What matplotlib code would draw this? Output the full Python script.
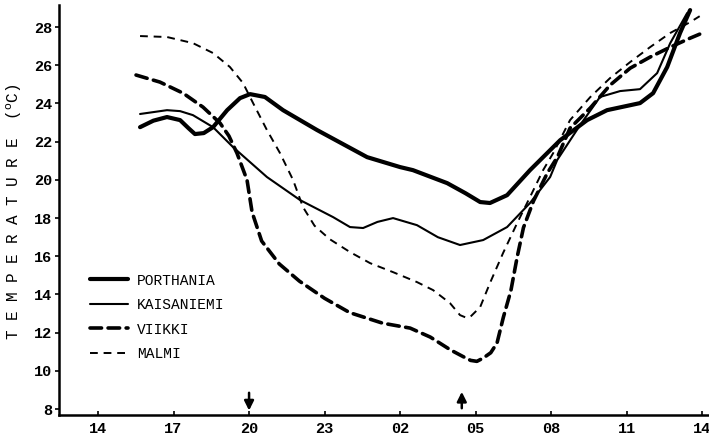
import matplotlib
matplotlib.use('Agg')
import matplotlib.pyplot as plt

# hours from 14:00 on day 1 (values above 24 are the next morning)
porthania_x = [15.67, 16.2, 16.74, 17.26, 17.6, 17.85, 18.2, 18.57, 19.13, 19.64, 20.04, 20.63,
               21.35, 22.7, 24.69, 26.0, 26.51, 27.87, 28.6, 29.18, 29.57, 30.25, 31.16, 32.36,
               33.43, 34.22, 35.53, 36.05, 36.61, 37.12, 37.52]
porthania_y = [22.76, 23.1, 23.29, 23.13, 22.7, 22.4, 22.45, 22.76, 23.65, 24.28, 24.49, 24.34,
               23.65, 22.61, 21.19, 20.67, 20.51, 19.83, 19.3, 18.84, 18.79, 19.2, 20.51, 22.08,
               23.13, 23.65, 24.02, 24.54, 25.91, 27.69, 28.89]

kaisaniemi_x = [15.67, 16.74, 17.26, 17.77, 18.57, 19.36, 20.71, 22.03, 23.34, 24.01, 24.53,
                25.1, 25.72, 26.67, 27.5, 28.38, 29.3, 30.25, 31.16, 31.96, 32.24, 33.15, 33.94,
                34.74, 35.53, 36.21, 36.73, 37.4]
kaisaniemi_y = [23.45, 23.65, 23.6, 23.39, 22.76, 21.72, 20.15, 18.94, 18.05, 17.53, 17.48,
                17.8, 18.0, 17.63, 17.0, 16.59, 16.85, 17.53, 18.79, 20.15, 21.04, 22.87, 24.34,
                24.65, 24.75, 25.59, 27.16, 28.73]

viikki_x = [15.51, 16.46, 17.38, 18.17, 18.85, 19.2, 19.52, 19.92, 20.12, 20.5, 21.2, 22.0,
            23.0, 24.0, 25.3, 26.4, 27.2, 28.0, 28.5, 28.8, 29.05, 29.3, 29.6, 29.85, 30.1,
            30.4, 30.65, 30.9, 31.3, 31.85, 32.25, 32.75, 33.55, 34.34, 35.14, 35.93, 36.73,
            37.52, 37.9]
viikki_y = [25.49, 25.12, 24.54, 23.81, 22.97, 22.3, 21.4, 19.99, 18.31, 16.8, 15.6, 14.7,
            13.8, 13.05, 12.5, 12.24, 11.77, 11.1, 10.75, 10.55, 10.5, 10.67, 10.95, 11.46, 12.8,
            14.2, 15.96, 17.5, 18.9, 20.36, 21.2, 22.71, 23.76, 24.96, 25.85, 26.43, 26.95,
            27.42, 27.63]

malmi_x = [15.67, 16.74, 17.77, 18.57, 19.24, 19.76, 20.16, 20.71, 21.23, 21.75, 22.14,
           22.6, 23.2, 24.01, 24.81, 25.72, 26.67, 27.31, 27.98, 28.38, 28.6, 28.78, 29.18, 29.57,
           30.09, 30.65, 31.16, 31.68, 32.08, 32.75, 33.55, 34.34, 35.14, 35.93, 36.73, 37.52, 37.9]
malmi_y = [27.53, 27.48, 27.16, 26.64, 25.91, 25.07, 24.02, 22.61, 21.4, 19.99, 18.58,
           17.6, 16.9, 16.22, 15.64, 15.17, 14.65, 14.23, 13.55, 12.92, 12.8, 12.82, 13.34, 14.6,
           16.17, 17.74, 19.1, 20.51, 21.4, 23.13, 24.33, 25.33, 26.17, 26.95, 27.69, 28.26, 28.57]

tick_hours = [14, 17, 20, 23, 26, 29, 32, 35, 38]
tick_labels = ['14', '17', '20', '23', '02', '05', '08', '11', '14']
y_ticks = [8, 10, 12, 14, 16, 18, 20, 22, 24, 26, 28]

sunset = 20.0
sunrise = 28.45

mono = 'Liberation Mono'

fig = plt.figure(figsize=(7.09, 4.37), dpi=100)
ax = fig.add_axes([0.0832, 0.0503, 0.9168, 0.938])

ax.plot(porthania_x, porthania_y, color='black', lw=3.0, solid_capstyle='round',
        solid_joinstyle='round', label='PORTHANIA')
ax.plot(kaisaniemi_x, kaisaniemi_y, color='black', lw=1.5, solid_capstyle='round',
        solid_joinstyle='round', label='KAISANIEMI')
ax.plot(viikki_x, viikki_y, color='black', lw=2.6, dashes=(3.2, 1.8),
        dash_capstyle='round', label='VIIKKI')
ax.plot(malmi_x, malmi_y, color='black', lw=1.4, dashes=(4, 3),
        label='MALMI')

ax.set_xlim(12.45, 38.27)
ax.set_ylim(7.69, 29.15)
ax.set_xticks(tick_hours)
ax.set_xticklabels(tick_labels, fontfamily=mono, fontsize=11, fontweight='bold')
ax.set_yticks(y_ticks)
ax.set_yticklabels([str(v) for v in y_ticks], fontfamily=mono, fontsize=11, fontweight='bold')
ax.tick_params(axis='x', direction='in', length=3, width=1.2, pad=5)
ax.tick_params(axis='y', direction='out', length=3, width=1.2, pad=2)

for side in ['top', 'right']:
    ax.spines[side].set_visible(False)
for side in ['left', 'bottom']:
    ax.spines[side].set_linewidth(1.8)

# sunset / sunrise arrows
ax.annotate('', xy=(sunset, 7.78), xytext=(sunset, 9.0),
            arrowprops=dict(arrowstyle='-|>', color='black', lw=1.8, mutation_scale=14))
ax.annotate('', xy=(sunrise, 9.05), xytext=(sunrise, 7.9),
            arrowprops=dict(arrowstyle='-|>', color='black', lw=1.8, mutation_scale=14))

fig.text(0.02, 0.515, 'T E M P E R A T U R E  ($^{\\mathrm{o}}$C)', rotation=90,
         ha='center', va='center', fontfamily=mono, fontsize=11.5)

ax.legend(loc='upper left', bbox_to_anchor=(0.048, 0.345), frameon=False,
          prop={'family': mono, 'size': 10.5}, handlelength=2.6, handletextpad=0.6,
          labelspacing=0.72, borderpad=0, borderaxespad=0)

fig.savefig('out.png', dpi=100)
